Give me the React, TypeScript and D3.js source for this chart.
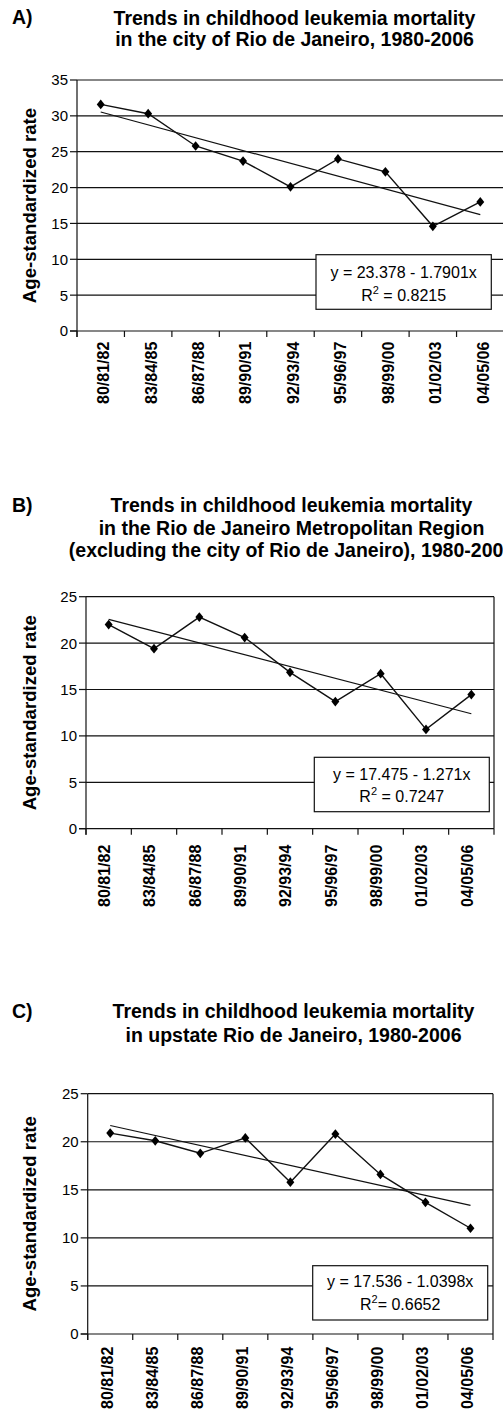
import * as d3 from 'd3'

// data
const periods = ['80/81/82', '83/84/85', '86/87/88', '89/90/91', '92/93/94', '95/96/97', '98/99/00', '01/02/03', '04/05/06']

const cityRates = [31.6, 30.3, 25.8, 23.7, 20.1, 24.0, 22.2, 14.6, 18.0]
const metroRates = [22.0, 19.4, 22.8, 20.6, 16.85, 13.7, 16.7, 10.7, 14.45]
const upstateRates = [20.9, 20.1, 18.8, 20.4, 15.8, 20.8, 16.6, 13.7, 11.0]

// linear trend, x centred on the middle period
const cityTrend = { intercept: 23.378, slope: -1.7901, r2: 0.8215 }
const metroTrend = { intercept: 17.475, slope: -1.271, r2: 0.7247 }
const upstateTrend = { intercept: 17.536, slope: -1.0398, r2: 0.6652 }

const cityTicks = [0, 5, 10, 15, 20, 25, 30, 35]
const regionTicks = [0, 5, 10, 15, 20, 25]

const cityTitle = ['Trends in childhood leukemia mortality', 'in the city of Rio de Janeiro, 1980-2006']
const metroTitle = [
  'Trends in childhood leukemia mortality',
  'in the Rio de Janeiro Metropolitan Region',
  '(excluding the city of Rio de Janeiro), 1980-2006',
]
const upstateTitle = ['Trends in childhood leukemia mortality', 'in upstate Rio de Janeiro, 1980-2006']

const FONT = '"Liberation Sans", Arial, Helvetica, sans-serif'
const INK = '#111'

interface Layout {
  left: number
  right: number
  top: number
  bottom: number
  titleX: number
  titleY: number[]
  letterY: number
  labelGap: number
  labelShift: number
  box: { x: number; y: number; w: number; h: number; y1: number; y2: number }
  r2Space: boolean
}

interface PanelProps {
  letter: string
  title: string[]
  rates: number[]
  ticks: number[]
  trend: { intercept: number; slope: number; r2: number }
  layout: Layout
}

function Panel({ letter, title, rates, ticks, trend, layout: L }: PanelProps) {
  const x = d3.scaleBand<string>().domain(periods).range([L.left, L.right])
  const y = d3.scaleLinear().domain([0, d3.max(ticks)!]).range([L.bottom, L.top])
  const cx = (p: string) => x(p)! + x.bandwidth() / 2
  const mid = (periods.length - 1) / 2

  const line = d3.line<number>()
    .x((_, i) => cx(periods[i]))
    .y(d => y(d))

  const trendPts = [0, periods.length - 1].map(i => ({
    x: cx(periods[i]),
    y: y(trend.intercept + trend.slope * (i - mid)),
  }))

  const diamond = d3.symbol(d3.symbolDiamond2, 60)()!
  const bounds = [...periods.map(p => x(p)!), L.right]
  const boxCx = L.box.x + L.box.w / 2

  return (
    <g fontFamily={FONT}>
      <text x={12} y={L.letterY} fontSize={19.5} fontWeight="bold">{letter}</text>
      {title.map((t, i) => (
        <text key={i} x={L.titleX} y={L.titleY[i]} fontSize={19.5} fontWeight="bold" textAnchor="middle">{t}</text>
      ))}

      {/* grid + frame */}
      {ticks.filter(t => t > 0).map(t => (
        <line key={t} x1={L.left} x2={L.right} y1={y(t)} y2={y(t)} stroke={INK} strokeWidth={1.2} />
      ))}
      <line x1={L.right} x2={L.right} y1={L.top} y2={L.bottom} stroke={INK} strokeWidth={1.2} />
      <line x1={L.left} x2={L.left} y1={L.top} y2={L.bottom + 6} stroke={INK} strokeWidth={1.2} />
      <line x1={L.left - 7} x2={L.right} y1={L.bottom} y2={L.bottom} stroke={INK} strokeWidth={1.2} />

      {ticks.map(t => (
        <g key={t}>
          <line x1={L.left - 7} x2={L.left} y1={y(t)} y2={y(t)} stroke={INK} strokeWidth={1.2} />
          <text x={L.left - 9} y={y(t)} dy="0.36em" fontSize={15} textAnchor="end">{t}</text>
        </g>
      ))}
      {bounds.map((b, i) => (
        <line key={i} x1={b} x2={b} y1={L.bottom} y2={L.bottom + 6} stroke={INK} strokeWidth={1.2} />
      ))}
      {periods.map(p => (
        <text key={p} fontSize={16} fontWeight="bold" textAnchor="end"
          transform={`translate(${cx(p) + L.labelShift + 5.8},${L.bottom + L.labelGap}) rotate(-90)`}>{p}</text>
      ))}

      <text fontSize={18.6} fontWeight="bold" textAnchor="middle"
        transform={`translate(36,${(L.top + L.bottom) / 2}) rotate(-90)`}>Age-standardized rate</text>

      {/* series + trend */}
      <line x1={trendPts[0].x} y1={trendPts[0].y} x2={trendPts[1].x} y2={trendPts[1].y} stroke={INK} strokeWidth={1.2} />
      <path d={line(rates)!} fill="none" stroke={INK} strokeWidth={1.4} />
      {rates.map((r, i) => (
        <path key={i} d={diamond} fill="#000"
          transform={`translate(${cx(periods[i])},${y(r)}) scale(0.82,1)`} />
      ))}

      {/* equation box */}
      <rect x={L.box.x} y={L.box.y} width={L.box.w} height={L.box.h} fill="#fff" stroke={INK} strokeWidth={1.2} />
      <text x={boxCx} y={L.box.y1} fontSize={16} textAnchor="middle">
        {`y = ${trend.intercept} - ${Math.abs(trend.slope)}x`}
      </text>
      <text x={boxCx} y={L.box.y2} fontSize={16} textAnchor="middle">
        R<tspan fontSize={11} dy={-7}>2</tspan><tspan dy={7}>{`${L.r2Space ? ' ' : ''}= ${trend.r2}`}</tspan>
      </text>
    </g>
  )
}

const cityLayout: Layout = {
  left: 77, right: 504, top: 80, bottom: 331,
  titleX: 294.5, titleY: [25, 45.5], letterY: 24,
  labelGap: 10.7, labelShift: 2.6,
  box: { x: 316, y: 254.7, w: 175.3, h: 54.6, y1: 278, y2: 300.5 },
  r2Space: true,
}
const metroLayout: Layout = {
  left: 86, right: 494, top: 596.7, bottom: 828.7,
  titleX: 291.5, titleY: [512, 535, 557], letterY: 512,
  labelGap: 16, labelShift: -4.5,
  box: { x: 314.3, y: 757.3, w: 175, h: 54.4, y1: 780, y2: 802 },
  r2Space: true,
}
const upstateLayout: Layout = {
  left: 87.7, right: 493, top: 1093.7, bottom: 1334,
  titleX: 293.5, titleY: [1018, 1041.5], letterY: 1018,
  labelGap: 12.7, labelShift: -3.4,
  box: { x: 312.7, y: 1265.7, w: 175, h: 54.3, y1: 1287, y2: 1310 },
  r2Space: false,
}

export default function App() {
  return (
    <svg width={503} height={1409} style={{ position: 'absolute', left: 0, top: 0, background: '#fff' }}>
      <rect width={503} height={1409} fill="#fff" />
      <Panel letter="A)" title={cityTitle} rates={cityRates} ticks={cityTicks} trend={cityTrend} layout={cityLayout} />
      <Panel letter="B)" title={metroTitle} rates={metroRates} ticks={regionTicks} trend={metroTrend} layout={metroLayout} />
      <Panel letter="C)" title={upstateTitle} rates={upstateRates} ticks={regionTicks} trend={upstateTrend} layout={upstateLayout} />
    </svg>
  )
}
